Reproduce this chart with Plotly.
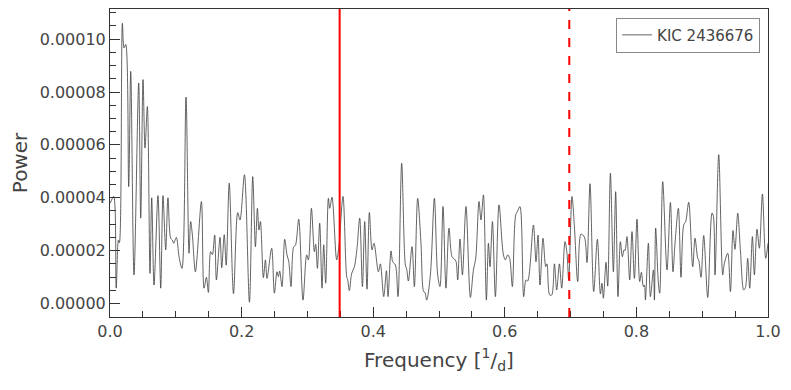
import plotly.graph_objects as go
import numpy as np

# Periodogram of KIC 2436676 (power in units of 1e-5)
freq = [0.0006, 0.0056, 0.0094, 0.0128, 0.0143, 0.0188, 0.0213, 0.0239, 0.0284, 0.0315,
        0.0365, 0.0436, 0.0467, 0.0502, 0.0532, 0.0568, 0.0608, 0.0634, 0.0669, 0.0729,
        0.0771, 0.0805, 0.0847, 0.0881, 0.0922, 0.0948, 0.0968, 0.1009, 0.1049, 0.1094,
        0.1155, 0.1201, 0.1226, 0.1252, 0.1298, 0.1389, 0.1429, 0.1465, 0.1495, 0.1530,
        0.1556, 0.1591, 0.1617, 0.1672, 0.1698, 0.1736, 0.1766, 0.1812, 0.1877, 0.1941,
        0.1976, 0.2043, 0.2119, 0.2169, 0.2210, 0.2240, 0.2264, 0.2286, 0.2331, 0.2362,
        0.2386, 0.2457, 0.2498, 0.2538, 0.2559, 0.2579, 0.2614, 0.2655, 0.2690, 0.2716,
        0.2751, 0.2792, 0.2818, 0.2868, 0.2933, 0.2989, 0.3015, 0.3061, 0.3106, 0.3126,
        0.3152, 0.3187, 0.3222, 0.3248, 0.3278, 0.3319, 0.3339, 0.3374, 0.3445, 0.3476,
        0.3541, 0.3597, 0.3612, 0.3638, 0.3673, 0.3714, 0.3754, 0.3795, 0.3836, 0.3871,
        0.3906, 0.3942, 0.3982, 0.4012, 0.4079, 0.4109, 0.4160, 0.4201, 0.4225, 0.4271,
        0.4296, 0.4337, 0.4377, 0.4433, 0.4489, 0.4509, 0.4535, 0.4590, 0.4626, 0.4676,
        0.4726, 0.4767, 0.4787, 0.4813, 0.4869, 0.4930, 0.4980, 0.5015, 0.5061, 0.5106,
        0.5152, 0.5198, 0.5234, 0.5258, 0.5284, 0.5319, 0.5356, 0.5410, 0.5477, 0.5523,
        0.5558, 0.5608, 0.5638, 0.5675, 0.5720, 0.5751, 0.5775, 0.5812, 0.5857, 0.5912,
        0.5979, 0.6009, 0.6044, 0.6074, 0.6115, 0.6166, 0.6196, 0.6231, 0.6287, 0.6322,
        0.6348, 0.6435, 0.6474, 0.6505, 0.6535, 0.6581, 0.6622, 0.6641, 0.6682, 0.6713,
        0.6754, 0.6789, 0.6830, 0.6865, 0.6915, 0.6945, 0.6971, 0.7021, 0.7058, 0.7108,
        0.7158, 0.7210, 0.7249, 0.7295, 0.7351, 0.7407, 0.7453, 0.7477, 0.7498, 0.7538,
        0.7564, 0.7605, 0.7650, 0.7685, 0.7720, 0.7757, 0.7787, 0.7812, 0.7827, 0.7857,
        0.7898, 0.7933, 0.7970, 0.8009, 0.8050, 0.8076, 0.8106, 0.8122, 0.8137, 0.8182,
        0.8213, 0.8258, 0.8274, 0.8293, 0.8334, 0.8354, 0.8400, 0.8465, 0.8517, 0.8556,
        0.8587, 0.8638, 0.8678, 0.8719, 0.8749, 0.8795, 0.8856, 0.8891, 0.8932, 0.8947,
        0.8982, 0.9023, 0.9084, 0.9149, 0.9170, 0.9195, 0.9251, 0.9312, 0.9337, 0.9388,
        0.9429, 0.9468, 0.9498, 0.9540, 0.9581, 0.9631, 0.9657, 0.9691, 0.9722, 0.9763,
        0.9793, 0.9833, 0.9869, 0.9915, 0.9965, 1.0000]

power_e5 = [3.80, 4.05, 0.58, 2.40, 2.30, 10.60, 9.67, 9.80, 4.42, 8.78,
            1.08, 8.34, 3.23, 8.47, 5.88, 7.45, 1.14, 4.00, 0.70, 4.08,
            0.58, 4.08, 2.03, 4.00, 2.47, 2.40, 2.28, 2.50, 1.77, 1.33,
            7.81, 1.90, 3.10, 2.59, 1.20, 3.86, 0.58, 0.99, 0.42, 1.96,
            1.85, 2.59, 0.89, 2.50, 1.35, 2.60, 1.45, 4.55, 0.37, 3.44,
            3.16, 4.87, 0.05, 4.80, 2.15, 3.60, 2.78, 3.10, 0.98, 1.65,
            0.95, 2.09, 0.39, 1.20, 1.02, 1.23, 0.64, 2.43, 1.84, 1.60,
            0.64, 2.15, 2.20, 3.19, 0.13, 1.84, 1.65, 3.60, 1.96, 2.24,
            1.33, 3.04, 0.58, 2.22, 0.77, 3.98, 3.60, 4.02, 1.65, 2.09,
            4.05, 1.02, 0.90, 0.49, 1.14, 1.39, 2.09, 3.23, 0.64, 3.10,
            0.54, 3.44, 2.03, 2.28, 1.20, 1.50, 0.26, 1.24, 0.26, 1.99,
            1.58, 1.46, 0.26, 5.31, 1.46, 1.30, 0.85, 2.15, 0.64, 3.98,
            2.28, 0.45, 0.42, 0.13, 1.08, 3.98, 1.08, 0.64, 3.67, 0.58,
            2.85, 1.77, 1.68, 1.60, 0.89, 2.44, 1.08, 3.67, 0.23, 1.27,
            1.71, 3.86, 3.16, 4.11, 0.13, 2.28, 1.39, 3.10, 0.26, 3.73,
            1.84, 1.65, 1.84, 1.70, 0.64, 3.35, 3.50, 3.67, 0.26, 0.89,
            0.85, 2.97, 1.58, 2.59, 0.70, 2.47, 1.39, 1.50, 0.32, 0.32,
            1.50, 0.51, 1.50, 0.58, 2.34, 1.90, 0.89, 4.05, 2.91, 0.83,
            2.63, 2.51, 1.55, 4.53, 0.45, 2.43, 0.36, 0.77, 0.20, 1.56,
            0.66, 4.93, 1.20, 4.23, 0.26, 2.34, 1.77, 2.03, 2.00, 2.53,
            0.89, 2.72, 0.95, 3.19, 0.83, 1.18, 0.64, 0.70, 0.13, 2.28,
            0.26, 1.27, 0.13, 2.85, 0.77, 0.39, 4.61, 1.27, 3.82, 1.20,
            2.28, 3.60, 0.99, 2.97, 3.10, 3.83, 1.39, 2.47, 1.71, 1.65,
            0.99, 2.57, 0.23, 3.42, 3.30, 1.08, 5.63, 1.08, 1.52, 1.90,
            0.45, 2.76, 2.05, 3.42, 2.00, 0.51, 0.60, 1.71, 0.58, 2.53,
            1.08, 2.81, 2.09, 4.14, 1.71, 2.28]

label = "KIC 2436676"
f_solid = 0.349      # marked frequency (solid red line)
f_dashed = 0.698     # its harmonic (dashed red line)

x_range = [0.0, 1.0]
y_range = [-0.0000051, 0.0001114]
y_ticks = [0.0, 0.00002, 0.00004, 0.00006, 0.00008, 0.00010]
y_ticktext = ["0.00000", "0.00002", "0.00004", "0.00006", "0.00008", "0.00010"]
x_ticks = [0.0, 0.2, 0.4, 0.6, 0.8, 1.0]
x_ticktext = ["0.0", "0.2", "0.4", "0.6", "0.8", "1.0"]

power = [p * 1e-5 for p in power_e5]

FONT = "DejaVu Sans, Verdana, sans-serif"
TXT = "#444444"
AX = "#333333"

fig = go.Figure()
fig.add_trace(go.Scatter(
    x=freq, y=power, mode="lines", name=label,
    line=dict(color="#3c3c3c", width=0.8, shape="spline", smoothing=0.9),
))

fig.add_vline(x=f_solid, line=dict(color="#ff0000", width=2))
fig.add_vline(x=f_dashed, line=dict(color="#ff0000", width=2, dash="dash"))

# the page body adds an 8px offset, so the figure is 8px smaller and margins compensate
fig.update_layout(
    width=783, height=382,
    margin=dict(l=102, r=23, t=1, b=73),
    paper_bgcolor="white", plot_bgcolor="white",
    font=dict(family=FONT, color=TXT, size=16),
    showlegend=True,
    legend=dict(
        x=0.988, y=0.972, xanchor="right", yanchor="top",
        bgcolor="white", bordercolor="#888888", borderwidth=1,
        font=dict(size=15, color=TXT, family=FONT),
        itemwidth=30,
    ),
)

fig.update_xaxes(
    range=x_range, tickvals=x_ticks, ticktext=x_ticktext,
    showline=True, linecolor=AX, linewidth=1, mirror=True,
    ticks="inside", ticklen=10, tickwidth=1, tickcolor=AX,
    minor=dict(ticks="inside", ticklen=6, dtick=0.05, tickwidth=1, tickcolor=AX, showgrid=False),
    showgrid=False, zeroline=False,
    tickfont=dict(size=16, color=TXT),
    title=dict(text="Frequency [<sup>1</sup>/<sub>d</sub>]", font=dict(size=20, color=TXT), standoff=12),
)
fig.update_yaxes(
    range=y_range, tickvals=y_ticks, ticktext=y_ticktext,
    showline=True, linecolor=AX, linewidth=1, mirror=True,
    ticks="inside", ticklen=10, tickwidth=1, tickcolor=AX,
    minor=dict(ticks="inside", ticklen=6, tick0=0, dtick=0.000005, tickwidth=1, tickcolor=AX, showgrid=False),
    showgrid=False, zeroline=False,
    tickfont=dict(size=16, color=TXT),
    title=dict(text="Power", font=dict(size=20, color=TXT), standoff=6),
)

fig.write_html("out.html")
